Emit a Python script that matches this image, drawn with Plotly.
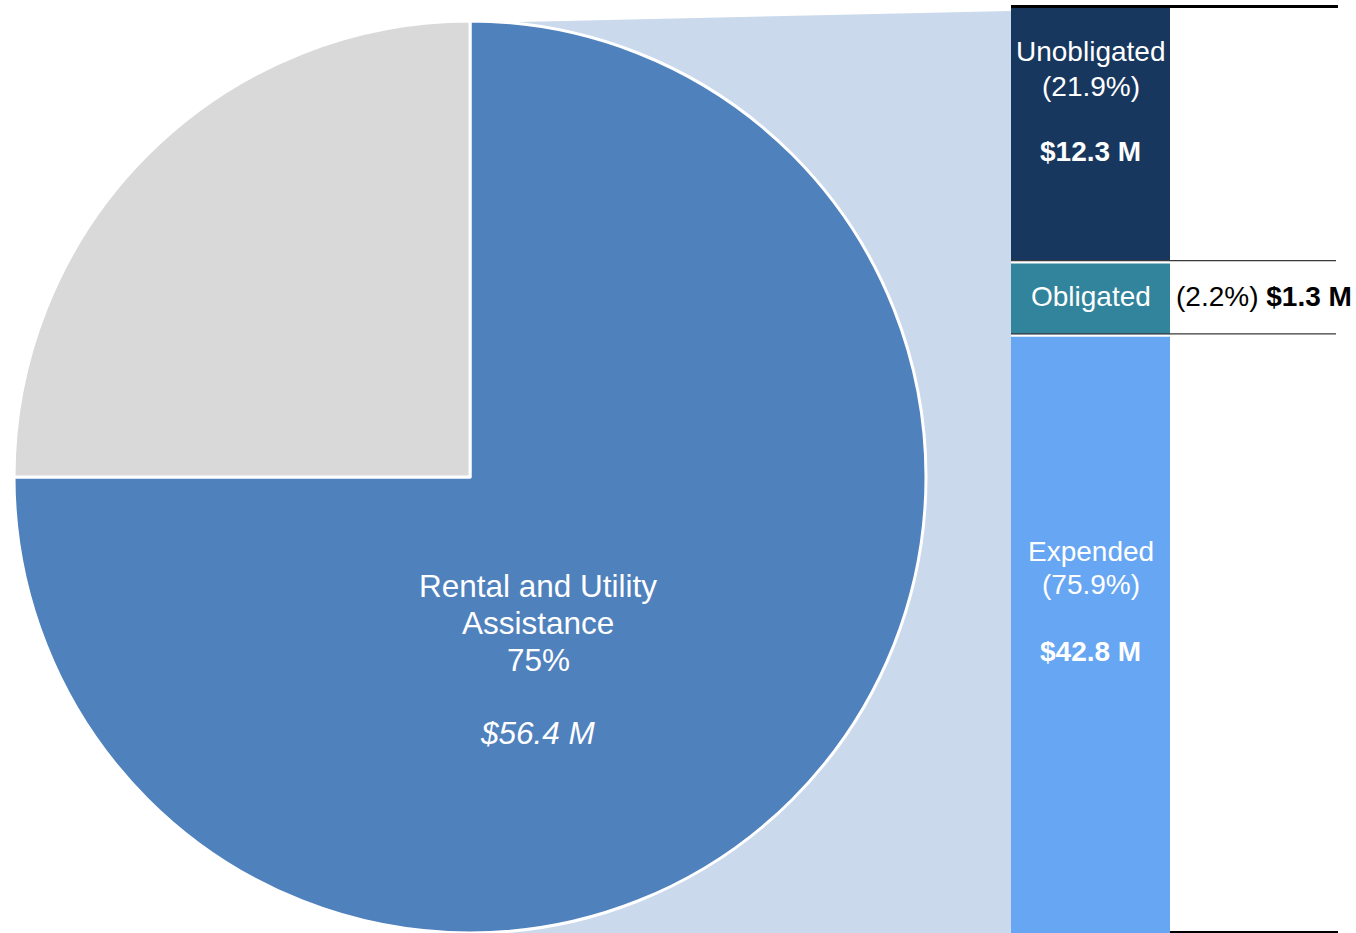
import plotly.graph_objects as go

W, H = 1356, 933

# ---- data ----
pie_labels = ["Rental and Utility Assistance", "Other"]
pie_values = [75, 25]
pie_amount_text = "$56.4 M"

bar_categories = ["Expended", "Obligated", "Unobligated"]
bar_share_pct = [75.9, 2.2, 21.9]          # shares shown in the labels
bar_amounts = ["$42.8 M", "$1.3 M", "$12.3 M"]
bar_drawn_height = [64.7, 7.9, 27.4]       # segment heights as drawn (not to scale)

pie_colors = ["#4F81BD", "#D9D9D9"]
bar_colors = ["#67A6F3", "#31849B", "#17375E"]
connector_color = "#CAD9EC"
FONT = "Liberation Sans, Arial, sans-serif"


def px(x):
    return x / W


def py(y):
    return 1 - y / H


fig = go.Figure()

# pie geometry (pixels)
cx, cy, r = 470, 477, 456
fig.add_trace(go.Pie(
    labels=pie_labels, values=pie_values, sort=False, direction="clockwise",
    rotation=0, marker=dict(colors=pie_colors, line=dict(color="white", width=3)),
    textinfo="none", showlegend=False,
    domain=dict(x=[px(cx - r), px(cx + r)], y=[py(cy + r), py(cy - r)]),
))

# stacked bar
for cat, h, c in zip(bar_categories, bar_drawn_height, bar_colors):
    fig.add_trace(go.Bar(
        x=["bar"], y=[h], name=cat, marker=dict(color=c, line=dict(width=0)),
        showlegend=False, hoverinfo="name",
    ))

bar_left, bar_right, bar_top = 1011, 1170, 7
fig.update_layout(
    width=W, height=H, margin=dict(l=0, r=0, t=0, b=0),
    paper_bgcolor="white", plot_bgcolor="rgba(0,0,0,0)",
    barmode="stack", bargap=0,
    xaxis=dict(domain=[px(bar_left), px(bar_right)], range=[-0.5, 0.5],
               visible=False, fixedrange=True),
    yaxis=dict(domain=[0, py(bar_top)], range=[0, sum(bar_drawn_height)],
               visible=False, fixedrange=True),
    font=dict(family=FONT),
)

# connector polygon behind pie
shapes = [dict(
    type="path", xref="paper", yref="paper", layer="below",
    path=f"M {px(cx)} {py(cy - r + 2)} L {px(bar_left)} {py(11)} "
         f"L {px(bar_left)} 0 L {px(cx)} 0 Z",
    fillcolor=connector_color, line=dict(width=0),
)]

# boundary lines
line_right = 1336
cum = 0
bounds = []
for h in bar_drawn_height[:-1]:
    cum += h
    bounds.append(cum)
unit_px = (H - bar_top) / sum(bar_drawn_height)
for b in bounds:
    shapes.append(dict(type="line", xref="paper", yref="y",
                       x0=px(bar_left), x1=px(line_right),
                       y0=b - 1.5 / unit_px, y1=b - 1.5 / unit_px,
                       line=dict(color="white", width=2.5), layer="above"))
    shapes.append(dict(type="line", xref="paper", yref="y",
                       x0=px(bar_left), x1=px(line_right), y0=b, y1=b,
                       line=dict(color="#3a3a3a", width=1.2), layer="above"))
# top and bottom rules (paper coords so they are not clipped)
shapes.append(dict(type="line", xref="paper", yref="paper",
                   x0=px(bar_left), x1=px(1338), y0=py(6.5), y1=py(6.5),
                   line=dict(color="black", width=3), layer="above"))
shapes.append(dict(type="line", xref="paper", yref="paper",
                   x0=px(bar_right), x1=px(1338), y0=py(932), y1=py(932),
                   line=dict(color="black", width=2), layer="above"))
fig.update_layout(shapes=shapes)

ann = []


def add_line(text, x, y, size, color="white", xanchor="center"):
    ann.append(dict(text=text, x=px(x), y=py(y), xref="paper", yref="paper",
                    xanchor=xanchor, yanchor="middle", showarrow=False,
                    font=dict(family=FONT, size=size, color=color)))


# pie label
add_line("Rental and Utility", 538, 586, 31.5)
add_line("Assistance", 538, 623, 31.5)
add_line(f"{pie_values[0]}%", 538, 660, 31.5)
add_line(f"<i>{pie_amount_text}</i>", 538, 733, 31.5)

bx = (bar_left + bar_right) / 2
# Unobligated
add_line(bar_categories[2], bx, 52, 28)
add_line(f"({bar_share_pct[2]}%)", bx, 86, 28)
add_line(f"<b>{bar_amounts[2]}</b>", bx, 152, 28)
# Obligated
add_line(bar_categories[1], bx, 297, 28)
add_line(f"({bar_share_pct[1]}%) <b>{bar_amounts[1]}</b>", 1174, 297, 28,
         color="black", xanchor="left")
# Expended
add_line(bar_categories[0], bx, 551, 28)
add_line(f"({bar_share_pct[0]}%)", bx, 584, 28)
add_line(f"<b>{bar_amounts[0]}</b>", bx, 651, 28)

fig.update_layout(annotations=ann)

fig.write_html(
    "out.html",
    config=dict(displayModeBar=False),
    post_script="document.body.style.margin='0';"
                "document.body.style.overflow='hidden';",
)
